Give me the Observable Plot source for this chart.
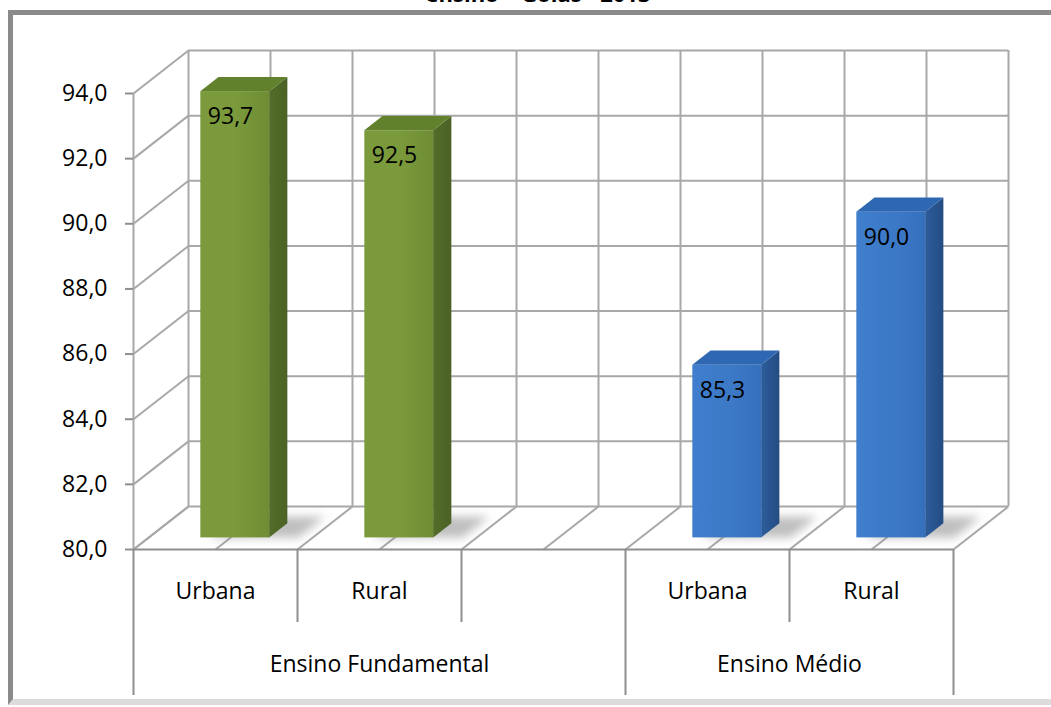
<!DOCTYPE html>
<html>
<head>
<meta charset="utf-8">
<script src="https://cdn.jsdelivr.net/npm/d3@7"></script>
<script src="https://cdn.jsdelivr.net/npm/@observablehq/plot@0.6"></script>
<style>
  html, body { margin: 0; padding: 0; background: #fff; overflow: hidden; }
  #wrap { position: relative; width: 1051px; height: 707px; overflow: hidden; font-family: "Open Sans", sans-serif; }
  #frame { position: absolute; left: 8px; top: 10px; width: 1060px; height: 684px;
           border-left: 5px solid #8b8b8b; border-top: 5px solid #8b8b8b;
           border-bottom: 6px solid #dcdcdc; box-sizing: content-box; }
  #title { position: absolute; left: 0; width: 1076px; top: -18px; text-align: center;
           font-weight: bold; font-size: 22px; line-height: 22px; color: #000; white-space: nowrap; }
  #chart { position: absolute; left: 0; top: 0; }
</style>
</head>
<body>
<div id="wrap">
  <div id="frame"></div>
  <div id="title">ensino – Goiás - 2013</div>
  <div id="chart"></div>
</div>
<script>
// ---- data ----
const categories = ["Urbana", "Rural", "", "Urbana", "Rural"];
const levels = ["Ensino Fundamental", "Ensino Fundamental", "Ensino Fundamental", "Ensino Médio", "Ensino Médio"];
const values = [93.7, 92.5, null, 85.3, 90.0];
const yTicks = [80, 82, 84, 86, 88, 90, 92, 94];

// ---- layout (pseudo 3D) ----
const W = 1051, H = 707;
const mL = 133, mR = 43, mT = 50, mB = 158;
const NS = categories.length;             // number of slots
const slotPx = (W - mL - mR) / (NS + 0.335);
const DX = 55 / slotPx;                     // depth offset in slot units
const yMin = 80, yMax = 94;
const PX = (H - mT - mB) / (yMax - yMin + 1.32);
const DY = 43 / PX;                         // depth offset in value units
const F0 = 0.27, F1 = 0.60;                 // bar depth range
const BW = 0.42, BC = 0.53;                 // bar width / centre within slot
const FS = 23;
const fmt = d => d.toFixed(1).replace(".", ",");

const rows = categories.map((c, i) => ({slot: i, category: c, level: levels[i], value: values[i]}))
  .filter(d => d.value != null);
const halfSlots = d3.range(0, NS + 0.01, 0.5);
const boundaries = d3.range(0, NS + 1);
const levelNames = Array.from(new Set(levels));
const levelSpans = levelNames.map(l => {
  const idx = levels.map((v, i) => v === l ? i : -1).filter(i => i >= 0);
  return {level: l, x1: d3.min(idx), x2: d3.max(idx) + 1};
});
const longDiv = new Set([0, ...levelSpans.map(s => s.x2)]);

const L = d => d.slot + BC - BW / 2;
const R = d => d.slot + BC + BW / 2;
const depthPts = (fs, fn) => rows.flatMap(d => fs.map(f => fn(d, f)));

const fronts = rows.map(d => ({...d, x1: L(d) + F0 * DX, x2: R(d) + F0 * DX, y1: yMin + F0 * DY, y2: d.value + F0 * DY}));
const sides = depthPts([F0, F1], (d, f) => ({...d, x: R(d) + f * DX, y1: yMin + f * DY, y2: d.value + f * DY}));
const tops = depthPts([F0, F1], (d, f) => ({...d, y: d.value + f * DY, x1: L(d) + f * DX, x2: R(d) + f * DX}));
const shadows = depthPts([F0, F1 + 0.15], (d, f) => ({...d, y: yMin + f * DY, x1: L(d) + f * DX + 0.06, x2: R(d) + f * DX + 0.18}));

const palette = {
  "Ensino Fundamental": {front: "url(#gFrontG)", side: "url(#gSideG)", top: "#62812c"},
  "Ensino Médio": {front: "url(#gFrontB)", side: "url(#gSideB)", top: "#2f68b2"}
};

const gridC = "#a8a8a8", axisC = "#8e8e8e";

function defs() {
  const d = d3.create("svg:defs");
  const lin = (id, stops, vertical) => {
    const g = d.append("linearGradient").attr("id", id)
      .attr("x1", 0).attr("y1", 0).attr("x2", vertical ? 0 : 1).attr("y2", vertical ? 1 : 0);
    stops.forEach(([o, c]) => g.append("stop").attr("offset", o).attr("stop-color", c));
  };
  lin("gFrontG", [[0, "#7b9a3c"], [0.5, "#7a9a3b"], [1, "#6f8d34"]], false);
  lin("gSideG", [[0, "#536d29"], [1, "#4a6225"]], false);
  lin("gFrontB", [[0, "#3f7fcd"], [0.6, "#3b78c6"], [1, "#3570bd"]], false);
  lin("gSideB", [[0, "#2c5d9c"], [1, "#244c82"]], false);
  d.append("filter").attr("id", "blur").attr("x", "-50%").attr("y", "-50%").attr("width", "200%").attr("height", "200%")
    .append("feGaussianBlur").attr("stdDeviation", 5);
  return d.node();
}

const marks = [
  defs,
  // back wall
  Plot.ruleY(yTicks, {y: d => d + DY, x1: DX, x2: NS + DX, stroke: gridC, strokeWidth: 2}),
  Plot.ruleX(halfSlots, {x: d => d + DX, y1: yMin + DY, y2: yMax + DY, stroke: gridC, strokeWidth: 2}),
  // left wall
  Plot.link(yTicks, {x1: 0, y1: d => d, x2: DX, y2: d => d + DY, stroke: gridC, strokeWidth: 2}),
  Plot.ruleX([0], {y1: yMin, y2: yMax, stroke: gridC, strokeWidth: 2}),
  // floor
  Plot.link(halfSlots, {x1: d => d, y1: yMin, x2: d => d + DX, y2: yMin + DY, stroke: gridC, strokeWidth: 2}),
  // shadows
  Plot.areaX(shadows, {y: "y", x1: "x1", x2: "x2", z: "slot", fill: "#7f7f80", fillOpacity: 0.5}),
];

for (const lv of levelNames) {
  const p = palette[lv];
  const f = d => d.level === lv;
  marks.push(
    Plot.rect(fronts.filter(f), {x1: "x1", x2: "x2", y1: "y1", y2: "y2", fill: p.front}),
    Plot.areaY(sides.filter(f), {x: "x", y1: "y1", y2: "y2", z: "slot", fill: p.side}),
    Plot.areaX(tops.filter(f), {y: "y", x1: "x1", x2: "x2", z: "slot", fill: p.top})
  );
}

marks.push(
  // value labels
  Plot.text(fronts, {x: "x1", y: "y2", text: d => fmt(d.value), textAnchor: "start", dx: 7, dy: 25, fill: "#000", fontSize: FS}),
  // front axis & y axis
  Plot.ruleY([yMin], {x1: 0, x2: NS, stroke: axisC, strokeWidth: 2}),
  Plot.axisY(yTicks, {tickSize: 8, tickPadding: 18, tickFormat: fmt, fontSize: FS, stroke: axisC, strokeWidth: 2, label: null}),
  // category axis
  Plot.ruleX(boundaries, {x: d => d, y1: yMin, y2: d => yMin - (longDiv.has(d) ? 146 : 73) / PX, stroke: axisC, strokeWidth: 2}),
  Plot.text(categories.map((c, i) => ({c, i})).filter(d => d.c), {x: d => d.i + 0.5, y: yMin, dy: 42, text: "c", fontSize: FS, fill: "#000"}),
  Plot.text(levelSpans, {x: d => (d.x1 + d.x2) / 2, y: yMin, dy: 115, text: "level", fontSize: FS, fill: "#000"})
);

const chart = Plot.plot({
  width: W, height: H,
  marginLeft: mL, marginRight: mR, marginTop: mT, marginBottom: mB,
  x: {domain: [0, NS + DX], axis: null},
  y: {domain: [yMin, yMax + DY], axis: null},
  style: {background: "transparent", fontFamily: "'Open Sans', sans-serif", fontSize: FS + "px", overflow: "visible"},
  marks
});
d3.select(chart).selectAll('g[fill="#7f7f80"]').attr("filter", "url(#blur)");
document.getElementById("chart").appendChild(chart);
</script>
</body>
</html>
